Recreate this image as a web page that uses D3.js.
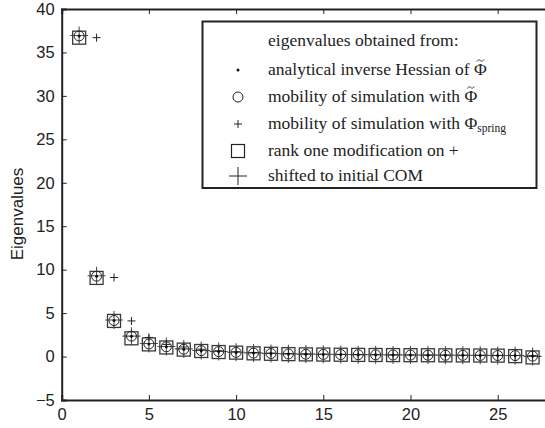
<!DOCTYPE html>
<html>
<head>
<meta charset="utf-8">
<script src="https://cdn.jsdelivr.net/npm/d3@7"></script>
<style>
  body { margin: 0; background: #fff; }
  svg { display: block; }
</style>
</head>
<body>
<svg id="chart" width="545" height="428"></svg>
<script>
// eigenvalue index
var idx = [1,2,3,4,5,6,7,8,9,10,11,12,13,14,15,16,17,18,19,20,21,22,23,24,25,26,27]
// analytical inverse Hessian (dots) / mobility with Phi~ (circles)
var analytic = [36.9,9.25,4.15,2.35,1.45,1.12,0.85,0.68,0.57,0.48,0.40,0.35,0.30,0.27,0.25,0.23,0.21,0.20,0.18,0.17,0.16,0.15,0.14,0.13,0.12,0.11,0.05]
var mobility = [36.9,9.25,4.15,2.35,1.45,1.12,0.85,0.68,0.57,0.48,0.40,0.35,0.30,0.27,0.25,0.23,0.21,0.20,0.18,0.17,0.16,0.15,0.14,0.13,0.12,0.11,0.05]
// mobility with Phi_spring (small +), index 2..27
var springIdx = [2,3,4,5,6,7,8,9,10,11,12,13,14,15,16,17,18,19,20,21,22,23,24,25,26,27]
var spring = [36.7,9.1,4.1,2.2,1.4,1.1,0.84,0.67,0.56,0.47,0.40,0.34,0.30,0.27,0.25,0.23,0.21,0.19,0.18,0.17,0.16,0.15,0.14,0.13,0.12,0.11]
// rank one modification (squares)
var rankOne = [36.7,9.05,4.1,2.1,1.4,1.05,0.8,0.64,0.52,0.45,0.37,0.32,0.28,0.25,0.23,0.21,0.19,0.18,0.17,0.16,0.15,0.14,0.13,0.12,0.11,0.05,-0.1]
// shifted to initial COM (large +)
var shifted = [36.95,9.3,4.2,2.35,1.5,1.15,0.88,0.7,0.58,0.5,0.42,0.36,0.31,0.28,0.26,0.24,0.22,0.2,0.19,0.18,0.17,0.16,0.15,0.14,0.13,0.12,0.02]

var xTicks = [0,5,10,15,20,25]
var yTicks = [-5,0,5,10,15,20,25,30,35,40]

var L = 61.7, T = 9, B = 400
var svg = d3.select('#chart')

var x = d3.scaleLinear().domain([0, 28]).range([L, L + 28 * 17.44])
var y = d3.scaleLinear().domain([-5, 40]).range([B, T])
var R = x(28)

var axisCol = '#222'
var sans = '"Liberation Sans", Arial, sans-serif'
var fmt = function (d) { return d < 0 ? '\u2212' + Math.abs(d) : String(d) }

// axes with inward ticks, MATLAB style box
var gx = svg.append('g').attr('transform', 'translate(0,' + B + ')')
  .call(d3.axisBottom(x).tickValues(xTicks).tickSize(-5).tickPadding(8).tickFormat(fmt))
var gxt = svg.append('g').attr('transform', 'translate(0,' + T + ')')
  .call(d3.axisTop(x).tickValues(xTicks).tickSize(-5).tickFormat(''))
var gy = svg.append('g').attr('transform', 'translate(' + L + ',0)')
  .call(d3.axisLeft(y).tickValues(yTicks).tickSize(-5).tickPadding(7).tickFormat(fmt))
var gyr = svg.append('g').attr('transform', 'translate(' + R + ',0)')
  .call(d3.axisRight(y).tickValues(yTicks).tickSize(-5).tickFormat(''))

;[gx, gxt, gy, gyr].forEach(function (g) {
  g.select('.domain').attr('stroke', axisCol).attr('stroke-width', 2)
  g.selectAll('.tick line').attr('stroke', axisCol).attr('stroke-width', 1)
  g.selectAll('.tick text').attr('fill', axisCol).attr('font-family', sans).attr('font-size', '16.5px')
})
gx.selectAll('.tick text').attr('dy', '0.72em')

svg.append('text')
  .attr('transform', 'translate(23,214) rotate(-90)')
  .attr('text-anchor', 'middle')
  .attr('font-family', sans).attr('font-size', '17px').attr('fill', axisCol)
  .text('Eigenvalues')

var plot = svg.append('g')

function plusPath(cx, cy, h) { return 'M' + (cx - h) + ',' + cy + 'H' + (cx + h) + 'M' + cx + ',' + (cy - h) + 'V' + (cy + h) }

// large + : shifted to initial COM
plot.selectAll('path.big').data(idx).join('path').attr('class', 'big')
  .attr('d', function (d, i) { return plusPath(x(d), y(shifted[i]), 9) })
  .attr('stroke', '#555').attr('stroke-width', 1.1).attr('fill', 'none')

// squares : rank one modification
plot.selectAll('rect.sq').data(idx).join('rect').attr('class', 'sq')
  .attr('x', function (d) { return x(d) - 6.5 }).attr('y', function (d, i) { return y(rankOne[i]) - 6.5 })
  .attr('width', 13).attr('height', 13)
  .attr('fill', 'none').attr('stroke', '#3a3a3a').attr('stroke-width', 1.3)

// circles : mobility with Phi~
plot.selectAll('circle.mob').data(idx).join('circle').attr('class', 'mob')
  .attr('cx', function (d) { return x(d) }).attr('cy', function (d, i) { return y(mobility[i]) })
  .attr('r', 5).attr('fill', 'none').attr('stroke', '#222').attr('stroke-width', 1)

// small + : mobility with Phi_spring
plot.selectAll('path.sp').data(springIdx).join('path').attr('class', 'sp')
  .attr('d', function (d, i) { return plusPath(x(d), y(spring[i]), 4) })
  .attr('stroke', '#222').attr('stroke-width', 1).attr('fill', 'none')

// dots : analytical
plot.selectAll('circle.dot').data(idx).join('circle').attr('class', 'dot')
  .attr('cx', function (d) { return x(d) }).attr('cy', function (d, i) { return y(analytic[i]) })
  .attr('r', 1.5).attr('fill', '#111')

// legend
var lg = svg.append('g')
lg.append('rect').attr('x', 202.5).attr('y', 21.5).attr('width', 334).attr('height', 166.5)
  .attr('fill', '#fff').attr('stroke', axisCol).attr('stroke-width', 2)

var serif = '"Liberation Serif", "Times New Roman", serif'
var mx = 238, tx = 268
var rows = [46, 75, 102, 129, 156, 181]

function ltext(yy) {
  return lg.append('text').attr('x', tx).attr('y', yy).attr('font-family', serif).attr('font-size', '17.5px').attr('fill', '#222')
}
// small tilde over the last glyph of a line (drawn as a path)
function tilde(t) {
  var node = t.node(), n = node.getNumberOfChars() - 1
  var a = node.getStartPositionOfChar(n), b = node.getEndPositionOfChar(n)
  var cx = (a.x + b.x) / 2, cy = a.y - 14.5
  lg.append('path')
    .attr('d', 'M' + (cx - 3.5) + ',' + (cy + 1) + 'C' + (cx - 2) + ',' + (cy - 1.5) + ' ' + (cx - 0.5) + ',' + (cy - 0.5) + ' ' + cx + ',' + cy +
      'S' + (cx + 2) + ',' + (cy + 1.5) + ' ' + (cx + 3.5) + ',' + (cy - 1))
    .attr('fill', 'none').attr('stroke', '#222').attr('stroke-width', 0.9)
}
ltext(rows[0]).text('eigenvalues obtained from:')
var t1 = ltext(rows[1]).text('analytical inverse Hessian of \u03A6'); tilde(t1)
var t2 = ltext(rows[2]).text('mobility of simulation with \u03A6'); tilde(t2)
var t3 = ltext(rows[3]); t3.append('tspan').text('mobility of simulation with \u03A6'); t3.append('tspan').attr('font-size', '11.5px').attr('dy', 3).text('spring')
ltext(rows[4]).text('rank one modification on +')
ltext(rows[5]).text('shifted to initial COM')

lg.append('circle').attr('cx', mx).attr('cy', rows[1] - 5).attr('r', 1.5).attr('fill', '#111')
lg.append('circle').attr('cx', mx).attr('cy', rows[2] - 5).attr('r', 5).attr('fill', 'none').attr('stroke', '#222')
lg.append('path').attr('d', plusPath(mx, rows[3] - 5, 4)).attr('stroke', '#222').attr('fill', 'none')
lg.append('rect').attr('x', mx - 6.5).attr('y', rows[4] - 11.5).attr('width', 13).attr('height', 13).attr('fill', 'none').attr('stroke', '#222').attr('stroke-width', 1.2)
lg.append('path').attr('d', plusPath(mx, rows[5] - 5, 9)).attr('stroke', '#222').attr('fill', 'none')
</script>
</body>
</html>
